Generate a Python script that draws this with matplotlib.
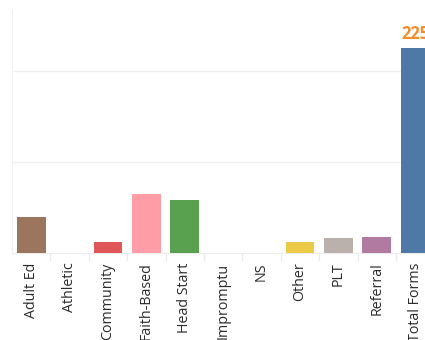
import numpy as np
import matplotlib
matplotlib.use("Agg")
import matplotlib.pyplot as plt
from matplotlib.ticker import FixedLocator

# data
categories = ["Adult Ed", "Athletic", "Community", "Faith-Based", "Head Start",
              "Impromptu", "NS", "Other", "PLT", "Referral", "Total Forms"]
counts = [40, 0, 12, 65, 58, 0, 0, 12, 16, 18, 225]
colors = ["#9c755f", "#79706e", "#e15759", "#ff9da7", "#59a14f",
          "#8cd17d", "#86bcb6", "#edc948", "#bab0ac", "#b07aa1", "#4e79a7"]
total_label = "225"

plt.rcParams["font.family"] = ["Open Sans", "DejaVu Sans"]

W, H = 425, 340
fig = plt.figure(figsize=(W / 100, H / 100), dpi=100)
# axes runs past the right edge, like the cropped original
left, bottom, top = 12, 87, 10
width = 422.4
ax = fig.add_axes([left / W, bottom / H, width / W, (H - top - bottom) / H])

x = np.arange(len(categories))
ax.bar(x, counts, width=0.755, color=colors, zorder=3)
ax.set_xlim(-0.5, len(categories) - 0.5)
ax.set_ylim(0, 267)

ax.set_yticks([100, 200])
ax.yaxis.set_tick_params(length=0, labelleft=False)
ax.grid(axis="y", color="#f0f0f0", linewidth=1, zorder=0)

ax.set_xticks(x)
ax.set_xticklabels(categories, rotation=90, fontsize=10.3, color="#2b2b2b")
ax.tick_params(axis="x", length=0, pad=7)
ax.xaxis.set_minor_locator(FixedLocator(x[:-1] + 0.5))
ax.tick_params(axis="x", which="minor", length=6, color="#ececec", width=1)

for side in ["top", "right"]:
    ax.spines[side].set_visible(False)
ax.spines["left"].set_color("#f0f0f0")
ax.spines["bottom"].set_color("#ececec")

ax.annotate(total_label, (x[-1], counts[-1]), xytext=(0, 4),
            textcoords="offset points", ha="center", va="bottom",
            fontsize=12, fontweight="bold", color="#f28e2b")

fig.savefig("out.png", dpi=100)
